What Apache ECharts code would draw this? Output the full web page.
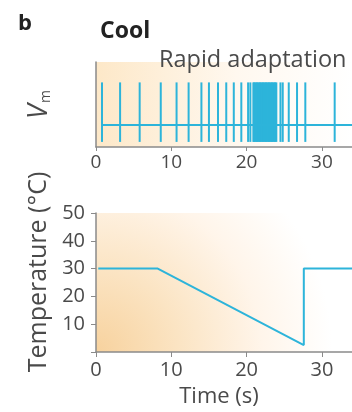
<!DOCTYPE html>
<html><head><meta charset="utf-8">
<script src="https://cdn.jsdelivr.net/npm/echarts@6/dist/echarts.min.js"></script>
<style>html,body{margin:0;padding:0;background:#fff;}#c{width:352px;height:412px;}</style>
</head><body><div id="c"></div>
<script>
// Spike times (s) of the membrane potential trace
const spikeTimes = [0.8, 3.2, 5.8, 8.6, 10.7, 12.3, 14.0, 15.0, 16.2, 17.3, 18.3, 19.3, 20.2, 20.5,
  20.9, 21.0, 21.15, 21.3, 21.4, 21.55, 21.7, 21.8, 21.95, 22.1, 22.2, 22.35, 22.5, 22.6, 22.75,
  22.9, 23.0, 23.15, 23.3, 23.4, 23.55, 23.7, 23.8, 23.95,
  24.5, 24.8, 25.6, 26.7, 27.8, 31.7];
const spikeLow = 6, spikeHigh = 76;
const baselineTimes = [0.8, 34];
const baselineLevel = 26;
// Temperature protocol
const tempTimes = [0.3, 8.2, 27.6, 27.6, 34];
const tempValues = [30, 30, 2.5, 30, 30];
const xTicks = [0, 10, 20, 30];
const yTicks = [10, 20, 30, 40, 50];

const blue = '#2db4da';
const axisCol = '#8a8a8a';
const txt = '#4a4a4a';
const font = 'Open Sans';

const chart = echarts.init(document.getElementById('c'));
chart.setOption({
  animation: false,
  textStyle: {fontFamily: font},
  title: [
    {text: 'b', left: 13, top: 8, textStyle: {fontFamily: font, fontWeight: 'bold', fontSize: 22, color: '#222'}},
    {text: 'Cool', left: 95, top: 15, textStyle: {fontFamily: font, fontWeight: 'bold', fontSize: 23, color: '#222'}},
    {text: 'Rapid adaptation', left: 154, top: 43, textStyle: {fontFamily: font, fontWeight: 'normal', fontSize: 23.5, color: txt}}
  ],
  grid: [
    {left: 96, right: 0, top: 62, bottom: 265, show: true, borderWidth: 0,
     backgroundColor: new echarts.graphic.LinearGradient(0, 0, 1, 0, [
       {offset: 0, color: '#fde8c8'}, {offset: 0.55, color: '#fff8ef'}, {offset: 1, color: '#ffffff'}])},
    {left: 96, right: 0, top: 213, bottom: 60, show: true, borderWidth: 0,
     backgroundColor: new echarts.graphic.RadialGradient(0, 1, 1.7, [
       {offset: 0, color: '#f7d29e'}, {offset: 0.35, color: '#fbe4c3'}, {offset: 0.7, color: '#fff5ea'}, {offset: 1, color: '#ffffff'}])}
  ],
  xAxis: [
    {gridIndex: 0, type: 'value', min: 0, max: 34, interval: 10,
     axisLine: {show: true, lineStyle: {color: axisCol, width: 1.5}},
     axisTick: {show: true, length: 4, lineStyle: {color: axisCol}},
     splitLine: {show: false},
     axisLabel: {fontSize: 19, color: txt, margin: 6, showMaxLabel: false,
       formatter: v => xTicks.includes(v) ? String(v) : ''}},
    {gridIndex: 1, type: 'value', min: 0, max: 34, interval: 10,
     name: 'Time (s)', nameLocation: 'middle', nameGap: 34,
     nameTextStyle: {fontSize: 22, color: txt, padding: [0, 10, 0, 0]},
     axisLine: {show: true, lineStyle: {color: axisCol, width: 1.5}},
     axisTick: {show: true, length: 5, lineStyle: {color: axisCol}},
     splitLine: {show: false},
     axisLabel: {fontSize: 20, color: txt, margin: 8, showMaxLabel: false,
       formatter: v => xTicks.includes(v) ? String(v) : ''}}
  ],
  yAxis: [
    {gridIndex: 0, type: 'value', min: 0, max: 100,
     name: '{v|V}{m|m}', nameLocation: 'middle', nameRotate: 90, nameGap: 43,
     nameTextStyle: {rich: {v: {fontSize: 27, fontStyle: 'italic', color: txt, fontFamily: font},
                            m: {fontSize: 14, color: txt, fontFamily: font, verticalAlign: 'bottom', padding: [9, 0, 0, 1]}}},
     axisLine: {show: true, lineStyle: {color: axisCol, width: 1.5}},
     axisTick: {show: false}, axisLabel: {show: false}, splitLine: {show: false}},
    {gridIndex: 1, type: 'value', min: 0, max: 50, interval: 10,
     name: 'Temperature (°C)', nameLocation: 'middle', nameRotate: 90, nameGap: 44,
     nameTextStyle: {fontSize: 25, color: txt, padding: [0, 0, 0, 21]},
     axisLine: {show: true, lineStyle: {color: axisCol, width: 1.5}},
     axisTick: {show: true, length: 5, lineStyle: {color: axisCol}},
     splitLine: {show: false},
     axisLabel: {fontSize: 20, color: txt, margin: 11,
       formatter: v => yTicks.includes(v) ? String(v) : ''}}
  ],
  series: [
    {type: 'line', xAxisIndex: 0, yAxisIndex: 0, symbol: 'none',
     data: baselineTimes.map(t => [t, baselineLevel]),
     lineStyle: {color: blue, width: 2}},
    {type: 'custom', xAxisIndex: 0, yAxisIndex: 0,
     data: spikeTimes.map(t => [t]),
     renderItem: (params, api) => {
       const t = api.value(0);
       const p1 = api.coord([t, spikeLow]);
       const p2 = api.coord([t, spikeHigh]);
       return {type: 'line', shape: {x1: p1[0], y1: p1[1], x2: p2[0], y2: p2[1]},
               style: {stroke: blue, lineWidth: 2}};
     }},
    {type: 'line', xAxisIndex: 1, yAxisIndex: 1, symbol: 'none',
     data: tempTimes.map((t, i) => [t, tempValues[i]]),
     lineStyle: {color: blue, width: 2}}
  ]
});
</script></body></html>
